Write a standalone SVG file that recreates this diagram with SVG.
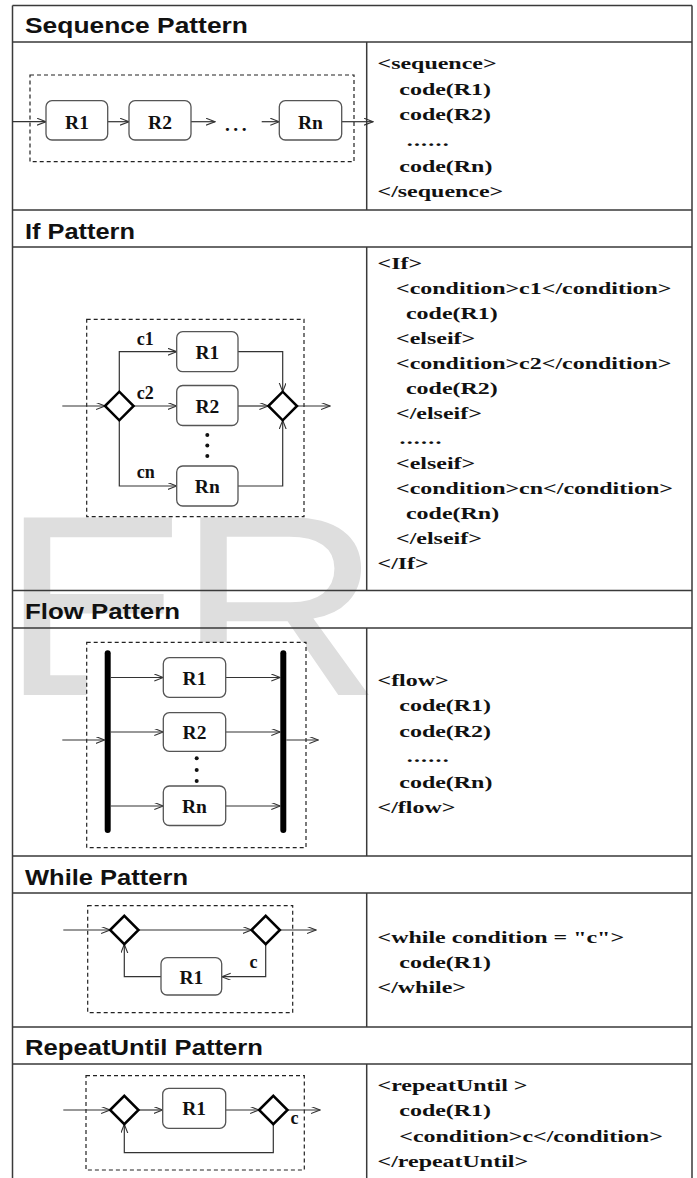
<svg xmlns="http://www.w3.org/2000/svg" width="697" height="1178" viewBox="0 0 697 1178">
<style>
.grid{stroke:#3a3a3a;stroke-width:1.5;fill:none}
.hdr{font-family:"Liberation Sans",Arial,sans-serif;font-weight:bold;font-size:22.5px;fill:#111}
.code text{font-family:"Liberation Serif","Times New Roman",serif;font-weight:bold;font-size:17.5px;fill:#111}
.box{fill:#fff;stroke:#555;stroke-width:1.3}
.lbl{font-family:"Liberation Serif","Times New Roman",serif;font-weight:bold;font-size:19.5px;fill:#111;text-anchor:middle}
.cl{font-family:"Liberation Serif","Times New Roman",serif;font-weight:bold;font-size:18px;fill:#111}
.dash{fill:none;stroke:#222;stroke-width:1.2;stroke-dasharray:4 3}
.dia{fill:#fff;stroke:#000;stroke-width:2.5;stroke-linejoin:miter}
.bar{stroke:#000;stroke-width:6;stroke-linecap:round}
.con path{fill:none;stroke:#333;stroke-width:1.2;marker-end:url(#arr)}
.dot{fill:#111}
.wm{font-family:"Liberation Sans",Arial,sans-serif;font-size:258px;fill:#dedede}
</style>
<defs>
<marker id="arr" markerUnits="userSpaceOnUse" markerWidth="10" markerHeight="8" refX="9" refY="3.5" orient="auto">
<path d="M0,0 L9,3.5 L0,7" fill="none" stroke="#333" stroke-width="1.1"/>
</marker>
</defs>

<g id="watermark">
<text class="wm" transform="translate(0.5 695) scale(1.1 1)">E</text>
<text class="wm" transform="translate(177 695) scale(1.1 1)">R</text>
</g>

<g id="table">
<path class="grid" d="M12.5,5.5 H692 M12.5,5.5 V1178 M692,5.5 V1178 M12.5,42 H692 M12.5,210 H692 M12.5,247 H692 M12.5,590.5 H692 M12.5,628 H692 M12.5,856 H692 M12.5,893 H692 M12.5,1027 H692 M12.5,1064 H692 M366.7,42 V210 M366.7,247 V590.5 M366.7,628 V856 M366.7,893 V1027 M366.7,1064 V1178"/>
<text class="hdr" x="25" y="33" textLength="223" lengthAdjust="spacingAndGlyphs">Sequence Pattern</text>
<text class="hdr" x="25" y="238.5" textLength="110" lengthAdjust="spacingAndGlyphs">If Pattern</text>
<text class="hdr" x="25" y="618.5" textLength="155" lengthAdjust="spacingAndGlyphs">Flow Pattern</text>
<text class="hdr" x="25" y="885" textLength="163" lengthAdjust="spacingAndGlyphs">While Pattern</text>
<text class="hdr" x="25" y="1054.5" textLength="238" lengthAdjust="spacingAndGlyphs">RepeatUntil Pattern</text>
</g>

<g id="code-sequence" class="code" transform="translate(377.5 0) scale(1.37 1)">
<text x="0" y="69">&lt;sequence&gt;</text>
<text x="15.9" y="95">code(R1)</text>
<text x="15.9" y="120.5">code(R2)</text>
<text x="21.3" y="146.5" letter-spacing="0.9">......</text>
<text x="15.9" y="172">code(Rn)</text>
<text x="0" y="197">&lt;/sequence&gt;</text>
</g>

<g id="code-if" class="code" transform="translate(377.5 0) scale(1.37 1)">
<text x="0" y="269">&lt;If&gt;</text>
<text x="13.5" y="294">&lt;condition&gt;c1&lt;/condition&gt;</text>
<text x="20.8" y="319">code(R1)</text>
<text x="13.5" y="344">&lt;elseif&gt;</text>
<text x="13.5" y="369">&lt;condition&gt;c2&lt;/condition&gt;</text>
<text x="20.8" y="394">code(R2)</text>
<text x="13.5" y="419">&lt;/elseif&gt;</text>
<text x="16" y="444" letter-spacing="0.9">......</text>
<text x="13.5" y="469">&lt;elseif&gt;</text>
<text x="13.5" y="494">&lt;condition&gt;cn&lt;/condition&gt;</text>
<text x="20.8" y="519">code(Rn)</text>
<text x="13.5" y="544">&lt;/elseif&gt;</text>
<text x="0" y="569">&lt;/If&gt;</text>
</g>

<g id="code-flow" class="code" transform="translate(377.5 0) scale(1.37 1)">
<text x="0" y="686">&lt;flow&gt;</text>
<text x="15.9" y="711.5">code(R1)</text>
<text x="15.9" y="737">code(R2)</text>
<text x="21.3" y="762.5" letter-spacing="0.9">......</text>
<text x="15.9" y="788">code(Rn)</text>
<text x="0" y="813.5">&lt;/flow&gt;</text>
</g>

<g id="code-while" class="code" transform="translate(377.5 0) scale(1.37 1)">
<text x="0" y="943">&lt;while condition = "c"&gt;</text>
<text x="15.9" y="968">code(R1)</text>
<text x="0" y="993">&lt;/while&gt;</text>
</g>

<g id="code-repeat" class="code" transform="translate(377.5 0) scale(1.37 1)">
<text x="0" y="1091.5">&lt;repeatUntil &gt;</text>
<text x="15.9" y="1116.5">code(R1)</text>
<text x="15.9" y="1142">&lt;condition&gt;c&lt;/condition&gt;</text>
<text x="0" y="1167.5">&lt;/repeatUntil&gt;</text>
</g>

<!-- Sequence pattern -->
<g id="seq-scope"><rect class="dash" x="30" y="75" width="324" height="86.7"/></g>
<g id="seq-connectors" class="con">
<path d="M12.5,121.7 H46"/>
<path d="M107.7,121.7 H129"/>
<path d="M191,121.7 H215"/>
<path d="M261.7,121.7 H279.3"/>
<path d="M341.7,121.7 H373"/>
</g>
<g id="seq-R1"><rect class="box" x="46" y="100.7" width="61.7" height="39.3" rx="6"/><text class="lbl" x="77" y="128.5">R1</text></g>
<g id="seq-R2"><rect class="box" x="129" y="100.7" width="62" height="39.3" rx="6"/><text class="lbl" x="160" y="128.5">R2</text></g>
<g id="seq-dots"><text class="lbl" x="237.5" y="131" letter-spacing="3.5">...</text></g>
<g id="seq-Rn"><rect class="box" x="279.3" y="100.7" width="62.4" height="39.3" rx="6"/><text class="lbl" x="310.5" y="128.5">Rn</text></g>

<!-- If pattern -->
<g id="if-scope"><rect class="dash" x="86.7" y="319.3" width="217.3" height="197.4"/></g>
<g id="if-connectors" class="con">
<path d="M62.3,406 H105"/>
<path d="M119.3,391.7 V351.7 H176.7"/>
<path d="M133.6,406 H176.7"/>
<path d="M119.3,420.3 V486 H176.7"/>
<path d="M238,351.7 H282.7 V391.7"/>
<path d="M238,406 H268.4"/>
<path d="M238,486 H282.7 V420.3"/>
<path d="M297,406 H330"/>
</g>
<g id="if-split"><polygon class="dia" points="105,406 119.3,391.7 133.6,406 119.3,420.3"/></g>
<g id="if-join"><polygon class="dia" points="268.4,406 282.7,391.7 297,406 282.7,420.3"/></g>
<g id="if-labels">
<text class="cl" x="136.7" y="345">c1</text>
<text class="cl" x="136.7" y="399.3">c2</text>
<text class="cl" x="136.7" y="478.3">cn</text>
</g>
<g id="if-R1"><rect class="box" x="176.7" y="331.7" width="61.3" height="40" rx="6"/><text class="lbl" x="207.3" y="358.7">R1</text></g>
<g id="if-R2"><rect class="box" x="176.7" y="385.5" width="61.3" height="40" rx="6"/><text class="lbl" x="207.3" y="412.5">R2</text></g>
<g id="if-vdots"><circle class="dot" cx="207.3" cy="435" r="2"/><circle class="dot" cx="207.3" cy="445.5" r="2"/><circle class="dot" cx="207.3" cy="456" r="2"/></g>
<g id="if-Rn"><rect class="box" x="176.7" y="466" width="61.3" height="40" rx="6"/><text class="lbl" x="207.3" y="493">Rn</text></g>

<!-- Flow pattern -->
<g id="flow-scope"><rect class="dash" x="86.7" y="642.3" width="219.3" height="205.4" style="fill:#fff"/></g>
<g id="flow-fork"><line class="bar" x1="107.7" y1="653.3" x2="107.7" y2="830"/></g>
<g id="flow-joinbar"><line class="bar" x1="283.3" y1="653.3" x2="283.3" y2="830"/></g>
<g id="flow-connectors" class="con">
<path d="M62.3,740 H104.7"/>
<path d="M110.7,677.5 H163.3"/>
<path d="M225.7,677.5 H280.3"/>
<path d="M110.7,732 H163.3"/>
<path d="M225.7,732 H280.3"/>
<path d="M110.7,806 H163.3"/>
<path d="M225.7,806 H280.3"/>
<path d="M286.3,740 H318.3"/>
</g>
<g id="flow-R1"><rect class="box" x="163.3" y="657.7" width="62.4" height="39.6" rx="6"/><text class="lbl" x="194.5" y="684.5">R1</text></g>
<g id="flow-R2"><rect class="box" x="163.3" y="712.7" width="62.4" height="38.6" rx="6"/><text class="lbl" x="194.5" y="739">R2</text></g>
<g id="flow-vdots"><circle class="dot" cx="196.7" cy="758.3" r="2"/><circle class="dot" cx="196.7" cy="770" r="2"/><circle class="dot" cx="196.7" cy="781" r="2"/></g>
<g id="flow-Rn"><rect class="box" x="163.3" y="786" width="62.4" height="39.5" rx="6"/><text class="lbl" x="194.5" y="812.5">Rn</text></g>

<!-- While pattern -->
<g id="while-scope"><rect class="dash" x="87.7" y="905.7" width="205" height="107"/></g>
<g id="while-connectors" class="con">
<path d="M63.3,930 H110.1"/>
<path d="M138.5,930 H251.5"/>
<path d="M279.9,930 H316"/>
<path d="M265.7,944.2 V976.7 H221.7"/>
<path d="M161,976.7 H124.3 V944.2"/>
</g>
<g id="while-d1"><polygon class="dia" points="110.1,930 124.3,915.8 138.5,930 124.3,944.2"/></g>
<g id="while-d2"><polygon class="dia" points="251.5,930 265.7,915.8 279.9,930 265.7,944.2"/></g>
<g id="while-R1"><rect class="box" x="161" y="957.7" width="60.7" height="37.3" rx="6"/><text class="lbl" x="191.3" y="983.5">R1</text></g>
<g id="while-label"><text class="cl" x="249.5" y="967.7" font-size="17">c</text></g>

<!-- RepeatUntil pattern -->
<g id="repeat-scope"><rect class="dash" x="86" y="1075.7" width="218.3" height="94.3"/></g>
<g id="repeat-connectors" class="con">
<path d="M63.3,1110 H110.1"/>
<path d="M138.5,1110 H162.7"/>
<path d="M225.7,1110 H259.1"/>
<path d="M287.5,1110 H320"/>
<path d="M273.3,1124.2 V1152.7 H124.3 V1124.2"/>
</g>
<g id="repeat-d1"><polygon class="dia" points="110.1,1110 124.3,1095.8 138.5,1110 124.3,1124.2"/></g>
<g id="repeat-R1"><rect class="box" x="162.7" y="1088.3" width="63" height="40" rx="6"/><text class="lbl" x="194.2" y="1115.3">R1</text></g>
<g id="repeat-d2"><polygon class="dia" points="259.1,1110 273.3,1095.8 287.5,1110 273.3,1124.2"/></g>
<g id="repeat-label"><text class="cl" x="290.5" y="1124.3" font-size="17">c</text></g>
</svg>
